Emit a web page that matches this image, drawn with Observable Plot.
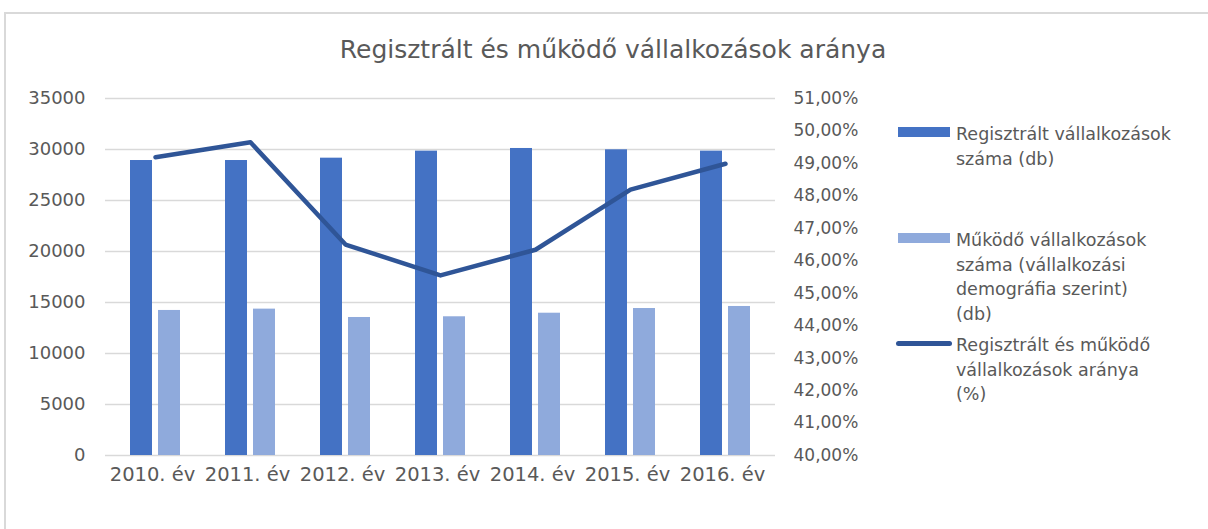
<!DOCTYPE html>
<html>
<head>
<meta charset="utf-8">
<script src="https://cdn.jsdelivr.net/npm/d3@7"></script>
<script src="https://cdn.jsdelivr.net/npm/@observablehq/plot@0.6"></script>
<style>
  html, body { margin: 0; padding: 0; background: #fff; }
  #wrap { position: relative; width: 1208px; height: 529px; overflow: hidden; font-family: "DejaVu Sans", sans-serif; color: #595959; }
  #frame { position: absolute; left: 4px; top: 12px; width: 1300px; height: 600px; border-left: 2px solid #d9d9d9; border-top: 2px solid #d9d9d9; box-sizing: border-box; }
  #title { position: absolute; left: 0; width: 1226px; top: 35px; text-align: center; font-size: 25px; line-height: 30px; }
  #chart { position: absolute; left: 0; top: 80px; }
  .leg { position: absolute; left: 898px; }
  .sw { position: absolute; left: 0; width: 52px; height: 10px; }
  .lt { position: absolute; left: 58px; width: 260px; font-size: 17.5px; line-height: 24.5px; white-space: nowrap; }
</style>
</head>
<body>
<div id="wrap">
  <div id="frame"></div>
  <div id="title"></div>
  <div id="chart"></div>
  <div id="legend"></div>
</div>
<script>
const titleText = "Regisztrált és működő vállalkozások aránya";
const years = ["2010. év", "2011. év", "2012. év", "2013. év", "2014. év", "2015. év", "2016. év"];
const registered = [28920, 28920, 29150, 29840, 30100, 29970, 29840];
const active = [14220, 14350, 13530, 13600, 13950, 14410, 14610];
const ratio = [49.19, 49.65, 46.50, 45.55, 46.34, 48.19, 48.99];
const leftTicks = [0, 5000, 10000, 15000, 20000, 25000, 30000, 35000];
const rightTicks = [40, 41, 42, 43, 44, 45, 46, 47, 48, 49, 50, 51];
const seriesNames = [
  "Regisztrált vállalkozások száma (db)",
  "Működő vállalkozások száma (vállalkozási demográfia szerint) (db)",
  "Regisztrált és működő vállalkozások aránya (%)"
];
const legendLines = [
  ["Regisztrált vállalkozások", "száma (db)"],
  ["Működő vállalkozások", "száma (vállalkozási", "demográfia szerint)", "(db)"],
  ["Regisztrált és működő", "vállalkozások aránya", "(%)"]
];
const colors = ["#4472c4", "#8faadc", "#2f5597"];

const yMax = 35000, pMin = 40, pMax = 51;
const pToY = p => (p - pMin) / (pMax - pMin) * yMax;

const data = years.map((y, i) => ({year: y, reg: registered[i], act: active[i], pct: ratio[i]}));

document.getElementById("title").textContent = titleText;

const chart = Plot.plot({
  width: 900,
  height: 420,
  marginTop: 18,
  marginBottom: 45,
  marginLeft: 105,
  marginRight: 125,
  style: {fontFamily: "DejaVu Sans, sans-serif", fontSize: "18px", color: "#595959", background: "transparent"},
  x: {type: "band", domain: years, paddingInner: 0.77, paddingOuter: 0.385, label: null},
  y: {domain: [0, yMax], label: null},
  marks: [
    Plot.ruleY(leftTicks, {stroke: "#d9d9d9", strokeWidth: 1.3}),
    Plot.barY(data, {x: "year", y: "reg", fill: colors[0], dx: -14}),
    Plot.barY(data, {x: "year", y: "act", fill: colors[1], dx: 14}),
    Plot.line(data, {x: "year", y: d => pToY(d.pct), stroke: colors[2], strokeWidth: 4.5, strokeLinecap: "round", strokeLinejoin: "round"}),
    Plot.axisY(leftTicks, {anchor: "left", tickSize: 0, tickPadding: 20, tickFormat: d3.format("d"), label: null}),
    Plot.axisY(rightTicks.map(pToY), {anchor: "right", tickSize: 0, tickPadding: 18, fontSize: 17,
      tickFormat: d => (pMin + d / yMax * (pMax - pMin)).toFixed(2).replace(".", ",") + "%", label: null}),
    Plot.axisX({tickSize: 0, tickPadding: 12, fontSize: 19.5, dx: -3, label: null})
  ]
});
document.getElementById("chart").appendChild(chart);

// Legend
const legend = document.getElementById("legend");
const entryTops = [122, 228, 333]; // first text line top
legendLines.forEach((lines, k) => {
  const e = document.createElement("div");
  e.className = "leg";
  e.style.top = entryTops[k] + "px";
  e.title = seriesNames[k];
  const sw = document.createElement("div");
  sw.className = "sw";
  sw.style.background = colors[k];
  if (k === 2) { sw.style.height = "5px"; sw.style.top = "8px"; sw.style.borderRadius = "3px"; sw.style.left = "-2px"; sw.style.width = "56px"; }
  else { sw.style.top = "5px"; }
  e.appendChild(sw);
  const t = document.createElement("div");
  t.className = "lt";
  t.innerHTML = lines.join("<br>");
  e.appendChild(t);
  legend.appendChild(e);
});
</script>
</body>
</html>
